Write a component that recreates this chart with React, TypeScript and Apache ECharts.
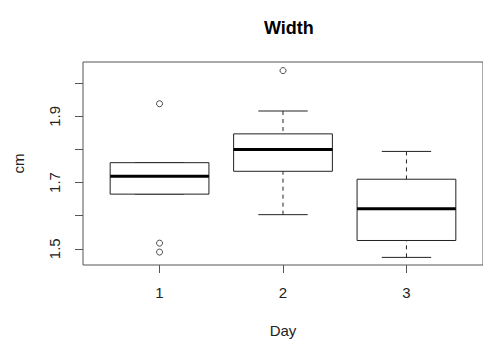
import React, { useEffect, useRef } from "react";
import * as echarts from "echarts";

const days = [1, 2, 3];
const whiskerLow = [1.665, 1.603, 1.474];
const q1 = [1.665, 1.734, 1.525];
const medians = [1.719, 1.8, 1.621];
const q3 = [1.76, 1.847, 1.71];
const whiskerHigh = [1.76, 1.916, 1.794];
const outlierDays = [1, 1, 1, 2];
const outlierValues = [1.938, 1.517, 1.49, 2.038];
const yTickValues = [1.5, 1.6, 1.7, 1.8, 1.9, 2.0];
const yLabelValues = [1.5, 1.7, 1.9];
const xTickValues = [1, 2, 3];

const FONT = "Liberation Sans, Arial, sans-serif";
const INK = "#222";
const AXIS = "#555";

export default function App() {
  const ref = useRef<HTMLDivElement>(null);
  useEffect(() => {
    if (!ref.current) return;
    const chart = echarts.init(ref.current, null, { renderer: "svg" });
    const boxData = days.map((d, i) => [d, whiskerLow[i], q1[i], medians[i], q3[i], whiskerHigh[i]]);
    const outData = outlierDays.map((d, i) => [d, outlierValues[i]]);
    const renderItem = (params: any, api: any) => {
      const x = api.value(0);
      const lo = api.value(1);
      const b1 = api.value(2);
      const md = api.value(3);
      const b3 = api.value(4);
      const hi = api.value(5);
      const half = 0.4;
      const st = 0.2;
      const c = (xx: number, yy: number) => api.coord([xx, yy]);
      const lineStyle = { stroke: INK, lineWidth: 1, fill: null };
      const dashStyle = { stroke: INK, lineWidth: 1, lineDash: [4, 4], fill: null };
      const pL = c(x - half, b3);
      const pR = c(x + half, b1);
      const children: any[] = [];
      const seg = (a: number[], b: number[], style: any) => ({
        type: "line",
        shape: { x1: a[0], y1: a[1], x2: b[0], y2: b[1] },
        style,
      });
      children.push(seg(c(x, hi), c(x, b3), dashStyle));
      children.push(seg(c(x, lo), c(x, b1), dashStyle));
      children.push(seg(c(x - st, hi), c(x + st, hi), lineStyle));
      children.push(seg(c(x - st, lo), c(x + st, lo), lineStyle));
      children.push({
        type: "rect",
        shape: { x: pL[0], y: pL[1], width: pR[0] - pL[0], height: pR[1] - pL[1] },
        style: { stroke: INK, lineWidth: 1, fill: "#fff" },
      });
      children.push(seg(c(x - half, md), c(x + half, md), { stroke: "#000", lineWidth: 3, fill: null }));
      return { type: "group", children };
    };
    chart.setOption({
      animation: false,
      backgroundColor: "#fff",
      textStyle: { fontFamily: FONT },
      title: {
        text: "Width",
        left: 259,
        top: 14,
        textStyle: { fontFamily: FONT, fontSize: 18, fontWeight: "bold", color: "#000" },
      },
      grid: {
        left: 83,
        top: 62,
        width: 405,
        height: 204,
        show: true,
        borderColor: AXIS,
        borderWidth: 1,
        backgroundColor: "transparent",
      },
      xAxis: {
        type: "value",
        min: 0.38,
        max: 3.62,
        name: "Day",
        nameLocation: "middle",
        nameGap: 58,
        nameTextStyle: { fontFamily: FONT, fontSize: 15, color: INK },
        axisLine: { show: false },
        splitLine: { show: false },
        axisTick: { show: true, inside: false, length: 8, customValues: xTickValues, lineStyle: { color: AXIS } },
        axisLabel: { show: true, customValues: xTickValues, margin: 20, fontSize: 15, color: INK, fontFamily: FONT },
      },
      yAxis: {
        type: "value",
        min: 1.451,
        max: 2.064,
        name: "cm",
        nameLocation: "middle",
        nameRotate: 90,
        nameGap: 57,
        nameTextStyle: { fontFamily: FONT, fontSize: 15, color: INK },
        axisLine: { show: false },
        splitLine: { show: false },
        axisTick: { show: true, inside: false, length: 8, customValues: yTickValues, lineStyle: { color: AXIS } },
        axisLabel: {
          show: true,
          customValues: yLabelValues,
          rotate: 90,
          margin: 21,
          fontSize: 15,
          color: INK,
          fontFamily: FONT,
          formatter: (v: number) => v.toFixed(1),
        },
      },
      series: [
        {
          type: "custom",
          renderItem,
          data: boxData,
          encode: { x: 0, y: [1, 2, 3, 4, 5] },
          clip: false,
          silent: true,
        },
        {
          type: "scatter",
          data: outData,
          symbol: "circle",
          symbolSize: 6,
          itemStyle: { color: "#fff", borderColor: INK, borderWidth: 1 },
          silent: true,
        },
      ],
    });
    return () => chart.dispose();
  }, []);
  return (
    <div
      ref={ref}
      style={{ position: "fixed", left: 0, top: 0, width: 483, height: 343, background: "#fff" }}
    />
  );
}
